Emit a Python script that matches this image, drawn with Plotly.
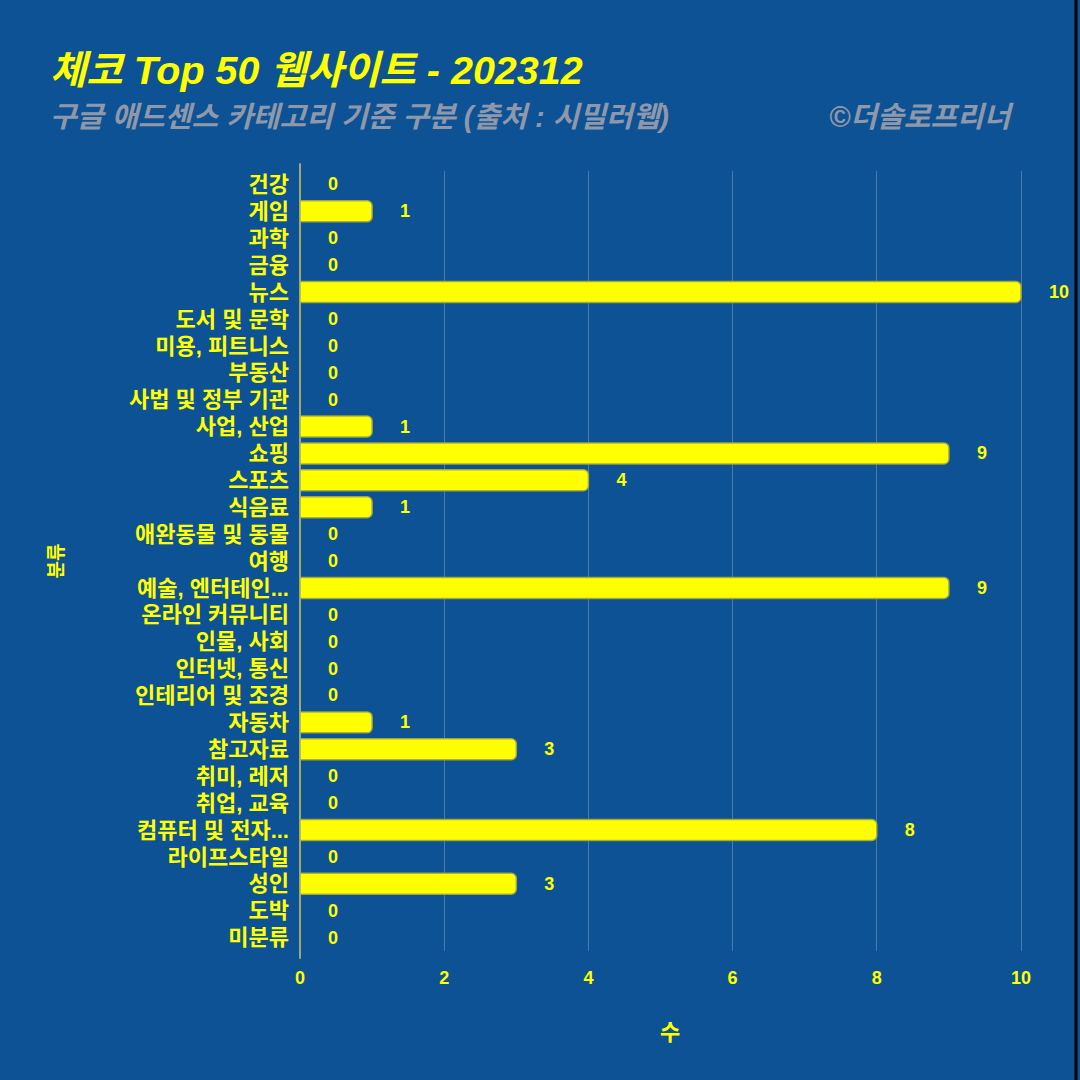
import plotly.graph_objects as go

categories = ["건강", "게임", "과학", "금융", "뉴스", "도서 및 문학", "미용, 피트니스", "부동산",
              "사법 및 정부 기관", "사업, 산업", "쇼핑", "스포츠", "식음료", "애완동물 및 동물", "여행",
              "예술, 엔터테인...", "온라인 커뮤니티", "인물, 사회", "인터넷, 통신", "인테리어 및 조경",
              "자동차", "참고자료", "취미, 레저", "취업, 교육", "컴퓨터 및 전자...", "라이프스타일",
              "성인", "도박", "미분류"]
values = [0, 1, 0, 0, 10, 0, 0, 0, 0, 1, 9, 4, 1, 0, 0, 9, 0, 0, 0, 0, 1, 3, 0, 0, 8, 0, 3, 0, 0]

FONT = "Liberation Sans, Noto Sans CJK KR"
BG = "#0d5294"
YEL = "#ffff00"
GRAY = "#8f98aa"

L, R, T, B = 300, 40, 171, 129
W = 1080 - L - R
H = 1080 - T - B
xmax = W / 72.1

PAD = "\u00a0" * 5

fig = go.Figure(go.Bar(
    x=values, y=categories, orientation="h",
    marker=dict(color=YEL, line=dict(color="rgba(170,170,60,0.9)", width=1.5), cornerradius=5),
    text=[PAD + str(v) for v in values], textposition="outside", cliponaxis=False,
    textfont=dict(color=YEL, size=18, family=FONT, weight="bold"),
    width=0.78,
))

fig.update_layout(
    width=1080, height=1080,
    paper_bgcolor=BG, plot_bgcolor=BG,
    margin=dict(l=L, r=R, t=T, b=B),
    showlegend=False,
    font=dict(family=FONT, color=YEL),
    xaxis=dict(range=[0, xmax], tickvals=[0, 2, 4, 6, 8, 10], showgrid=True,
               gridcolor="rgba(200,200,200,0.35)", gridwidth=1, zeroline=False,
               tickfont=dict(size=18, color=YEL, family=FONT, weight="bold"),
               ticks="", ticklabelstandoff=14,
               title=dict(text="수", font=dict(size=22, color=YEL, family=FONT, weight="bold"), standoff=37)),
    yaxis=dict(autorange="reversed", showgrid=False, zeroline=False,
               tickmode="array", tickvals=categories, ticktext=categories,
               tickfont=dict(size=22, color=YEL, family=FONT, weight="bold"),
               ticks="", ticklabelstandoff=10,
               title=dict(text="분류", font=dict(size=19, color=YEL, family=FONT, weight="bold"), standoff=60)),
    annotations=[
        dict(text="<i><b>체코 Top 50 웹사이트 - 202312</b></i>", xref="paper", yref="paper",
             x=(48 - L) / W, y=(1080 - 70 - B) / H, xanchor="left", yanchor="middle", showarrow=False,
             font=dict(size=39.5, color=YEL, family=FONT)),
        dict(text="<i>구글 애드센스 카테고리 기준 구분 (출처 : 시밀러웹)</i>", xref="paper", yref="paper",
             x=(48 - L) / W, y=(1080 - 117 - B) / H, xanchor="left", yanchor="middle", showarrow=False,
             font=dict(size=29, color=GRAY, family=FONT, weight="bold")),
        dict(text="<i>©더솔로프리너</i>", xref="paper", yref="paper",
             x=(1016 - L) / W, y=(1080 - 117 - B) / H, xanchor="right", yanchor="middle", showarrow=False,
             font=dict(size=29, color=GRAY, family=FONT, weight="bold")),
    ],
    shapes=[
        dict(type="line", xref="paper", yref="paper", x0=0, x1=0, y0=-0.01, y1=1.01,
             line=dict(color="rgba(190,190,120,0.8)", width=2), layer="below"),
        dict(type="line", xref="paper", yref="paper",
             x0=(1076 - L) / W, x1=(1076 - L) / W, y0=-B / H - 0.01, y1=(1080 - B) / H + 0.01,
             line=dict(color="#000000", width=3)),
    ],
)

fig.write_html("out.html")
